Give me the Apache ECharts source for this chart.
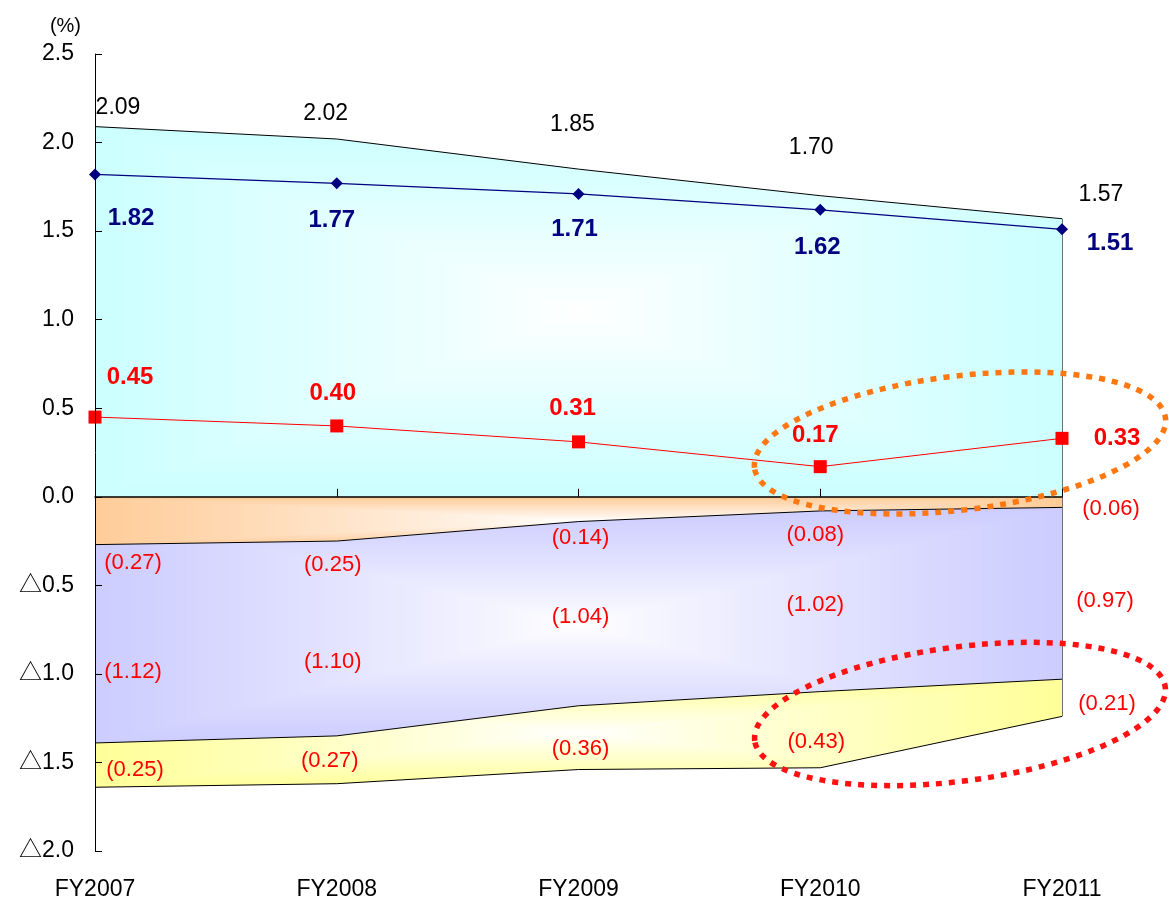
<!DOCTYPE html>
<html>
<head>
<meta charset="utf-8">
<script src="https://cdn.jsdelivr.net/npm/echarts@6/dist/echarts.min.js"></script>
<style>
  html, body { margin: 0; padding: 0; background: #ffffff; }
  #chart { width: 1169px; height: 902px; }
</style>
</head>
<body>
<div id="chart"></div>
<script>
// ---- data ----
const categories   = ['FY2007', 'FY2008', 'FY2009', 'FY2010', 'FY2011'];
const grossYield   = [2.09, 2.02, 1.85, 1.70, 1.57];   // top of the cyan band
const loanYield    = [1.82, 1.77, 1.71, 1.62, 1.51];   // navy line
const netMargin    = [0.45, 0.40, 0.31, 0.17, 0.33];   // red line
const fundingCost  = [0.27, 0.25, 0.14, 0.08, 0.06];   // orange band (below zero)
const expenseRatio = [1.12, 1.10, 1.04, 1.02, 0.97];   // purple band
const creditCost   = [0.25, 0.27, 0.36, 0.43, 0.21];   // yellow band
const yTicks = { min: -2.0, max: 2.5, step: 0.5 };
const negSign = '\u25B3';

// ---- label placement (pixel nudges from each point) ----
const offGross  = [[23, -19], [-11, -25], [-6, -44], [-9, -48], [39, -24]];
const offLoan   = [[36, 44], [-5, 37], [-4, 35], [-3, 38], [48, 14]];
const offNet    = [[35, -40], [-4, -33], [-6, -33], [-5, -31], [55, 0]];
const offFund   = [[38, 18], [-4, 24], [2, 16], [-5, 24], [49, 2]];
const offExp    = [[38, -71], [-4, -74], [2, -89], [-5, -87], [43, -78]];
const offCredit = [[40, -17], [-7, -23], [2, -21], [-4, -26], [45, -12]];

const FONT = '"Liberation Sans", Arial, "Noto Sans CJK JP", sans-serif';
const COLORS = { cyan: '#CCFFFF', orange: '#FFCC99', purple: '#CCCCFF', yellow: '#FFFF99' };

function items(values, offsets, sign) {
  return values.map((v, i) => ({ value: sign * v, label: { offset: offsets[i] } }));
}

function bandSeries(id, values, offsets, color) {
  return {
    id: id, type: 'line', stack: 'costs', silent: true,
    data: items(values, offsets, -1),
    symbol: 'circle', symbolSize: 1, showSymbol: true,
    itemStyle: { color: 'rgba(0,0,0,0)' },
    lineStyle: { color: '#000000', width: 1 },
    areaStyle: { color: color, opacity: 1 },
    emphasis: { disabled: true },
    label: {
      show: true, position: 'inside', color: '#FF0000', fontSize: 22, fontFamily: FONT,
      formatter: p => '(' + Math.abs(p.value).toFixed(2) + ')'
    },
    z: 2
  };
}

const chart = echarts.init(document.getElementById('chart'), null, { renderer: 'canvas' });

const option = {
  animation: false,
  backgroundColor: '#ffffff',
  grid: { left: 95, right: 107, top: 54, bottom: 51, containLabel: false, outerBoundsMode: 'none' },
  xAxis: [
    { // zero line with upward ticks
      type: 'category', data: categories, boundaryGap: false, position: 'bottom', z: 10,
      axisLine: { show: true, onZero: true, lineStyle: { color: '#000000', width: 1.5 } },
      axisTick: { show: true, inside: true, length: 8, lineStyle: { color: '#000000', width: 1 } },
      axisLabel: { show: false }, splitLine: { show: false }
    },
    { // category labels along the bottom
      type: 'category', data: categories, boundaryGap: false, position: 'bottom',
      axisLine: { show: false, onZero: false }, axisTick: { show: false },
      axisLabel: { show: true, margin: 27, color: '#000000', fontSize: 23, fontFamily: FONT },
      splitLine: { show: false }
    }
  ],
  yAxis: {
    type: 'value', min: yTicks.min, max: yTicks.max, interval: yTicks.step, z: 10,
    name: '(%)', nameLocation: 'end', nameGap: 18,
    nameTextStyle: { color: '#000000', fontSize: 20, fontFamily: FONT, align: 'right', padding: [0, 14, 0, 0] },
    axisLine: { show: true, lineStyle: { color: '#000000', width: 1 } },
    axisTick: { show: true, inside: true, length: 7, lineStyle: { color: '#000000' } },
    splitLine: { show: false },
    axisLabel: {
      margin: 21, color: '#000000', fontSize: 23, fontFamily: FONT, padding: [7, 0, 0, 0],
      formatter: v => (v < 0 ? negSign + (-v).toFixed(1) : v.toFixed(1))
    }
  },
  graphic: [
    { type: 'ellipse', x: 960, y: 443, rotation: 0.12, silent: true, z: 100,
      shape: { cx: 0, cy: 0, rx: 207, ry: 67 },
      style: { fill: 'none', stroke: '#FF7711', lineWidth: 5.5, lineDash: [6, 7] } },
    { type: 'ellipse', x: 960, y: 714, rotation: 0.13, silent: true, z: 100,
      shape: { cx: 0, cy: 0, rx: 207, ry: 67 },
      style: { fill: 'none', stroke: '#FF1111', lineWidth: 5.5, lineDash: [6, 7] } }
  ],
  series: [
    {
      id: 'gross', type: 'line', silent: true,
      data: items(grossYield, offGross, 1),
      symbol: 'circle', symbolSize: 1, showSymbol: true,
      itemStyle: { color: 'rgba(0,0,0,0)' },
      lineStyle: { color: '#000000', width: 1 },
      areaStyle: { color: COLORS.cyan, opacity: 1 },
      emphasis: { disabled: true },
      label: { show: true, position: 'inside', color: '#000000', fontSize: 23, fontFamily: FONT,
        formatter: p => p.value.toFixed(2) },
      markLine: {
        silent: true, symbol: ['none', 'none'], label: { show: false },
        lineStyle: { color: '#707070', width: 1, type: 'solid' },
        data: [[
          { coord: [categories[4], grossYield[4]] },
          { coord: [categories[4], -(fundingCost[4] + expenseRatio[4] + creditCost[4])] }
        ]]
      },
      z: 2
    },
    bandSeries('fund', fundingCost, offFund, COLORS.orange),
    bandSeries('exp', expenseRatio, offExp, COLORS.purple),
    bandSeries('credit', creditCost, offCredit, COLORS.yellow),
    {
      id: 'loan', type: 'line', silent: true,
      data: items(loanYield, offLoan, 1),
      symbol: 'diamond', symbolSize: 12,
      itemStyle: { color: '#000080' },
      lineStyle: { color: '#000080', width: 1.2 },
      emphasis: { disabled: true },
      label: { show: true, position: 'inside', color: '#000080', fontSize: 24, fontWeight: 'bold', fontFamily: FONT,
        formatter: p => p.value.toFixed(2) },
      z: 5
    },
    {
      id: 'net', type: 'line', silent: true,
      data: items(netMargin, offNet, 1),
      symbol: 'rect', symbolSize: 13,
      itemStyle: { color: '#FF0000' },
      lineStyle: { color: '#FF0000', width: 1 },
      emphasis: { disabled: true },
      label: { show: true, position: 'inside', color: '#FF0000', fontSize: 24, fontWeight: 'bold', fontFamily: FONT,
        formatter: p => p.value.toFixed(2) },
      z: 5
    }
  ]
};

chart.setOption(option);

// ---- centre-out fills: white in the middle of each band, full colour at its edges ----
function hexRgb(h) {
  const n = parseInt(h.slice(1), 16);
  return [(n >> 16) & 255, (n >> 8) & 255, n & 255];
}
function centreFill(box, edgeHex) {
  const W = chart.getWidth(), H = chart.getHeight();
  const cv = document.createElement('canvas');
  cv.width = W; cv.height = H;
  const ctx = cv.getContext('2d');
  const edge = hexRgb(edgeHex);
  ctx.fillStyle = edgeHex;
  ctx.fillRect(0, 0, W, H);
  const cx = (box.x0 + box.x1) / 2, cy = (box.y0 + box.y1) / 2;
  const hw = (box.x1 - box.x0) / 2, hh = (box.y1 - box.y0) / 2;
  const steps = 90;
  for (let s = steps; s >= 1; s--) {
    const t = s / steps;
    const k = Math.pow(t, 0.9);
    const c = edge.map(e => Math.round(255 + (e - 255) * k));
    ctx.fillStyle = 'rgb(' + c.join(',') + ')';
    ctx.fillRect(cx - hw * t, cy - hh * t, 2 * hw * t, 2 * hh * t);
  }
  return { image: cv, repeat: 'no-repeat' };
}

const toPx = (i, v) => chart.convertToPixel({ gridIndex: 0 }, [i, v]);
const cumFund = fundingCost.map(v => -v);
const cumExp = fundingCost.map((v, i) => -(v + expenseRatio[i]));
const cumCredit = fundingCost.map((v, i) => -(v + expenseRatio[i] + creditCost[i]));
const xL = toPx(0, 0)[0], xR = toPx(categories.length - 1, 0)[0];
const yAt = v => toPx(0, v)[1];
const box = (top, bottom) => ({ x0: xL, x1: xR, y0: yAt(top), y1: yAt(bottom) });

chart.setOption({
  series: [
    { id: 'gross', areaStyle: { color: centreFill(box(Math.max(...grossYield), 0), COLORS.cyan) } },
    { id: 'fund', areaStyle: { color: centreFill(box(0, Math.min(...cumFund)), COLORS.orange) } },
    { id: 'exp', areaStyle: { color: centreFill(box(Math.max(...cumFund), Math.min(...cumExp)), COLORS.purple) } },
    { id: 'credit', areaStyle: { color: centreFill(box(Math.max(...cumExp), Math.min(...cumCredit)), COLORS.yellow) } }
  ]
});
</script>
</body>
</html>
